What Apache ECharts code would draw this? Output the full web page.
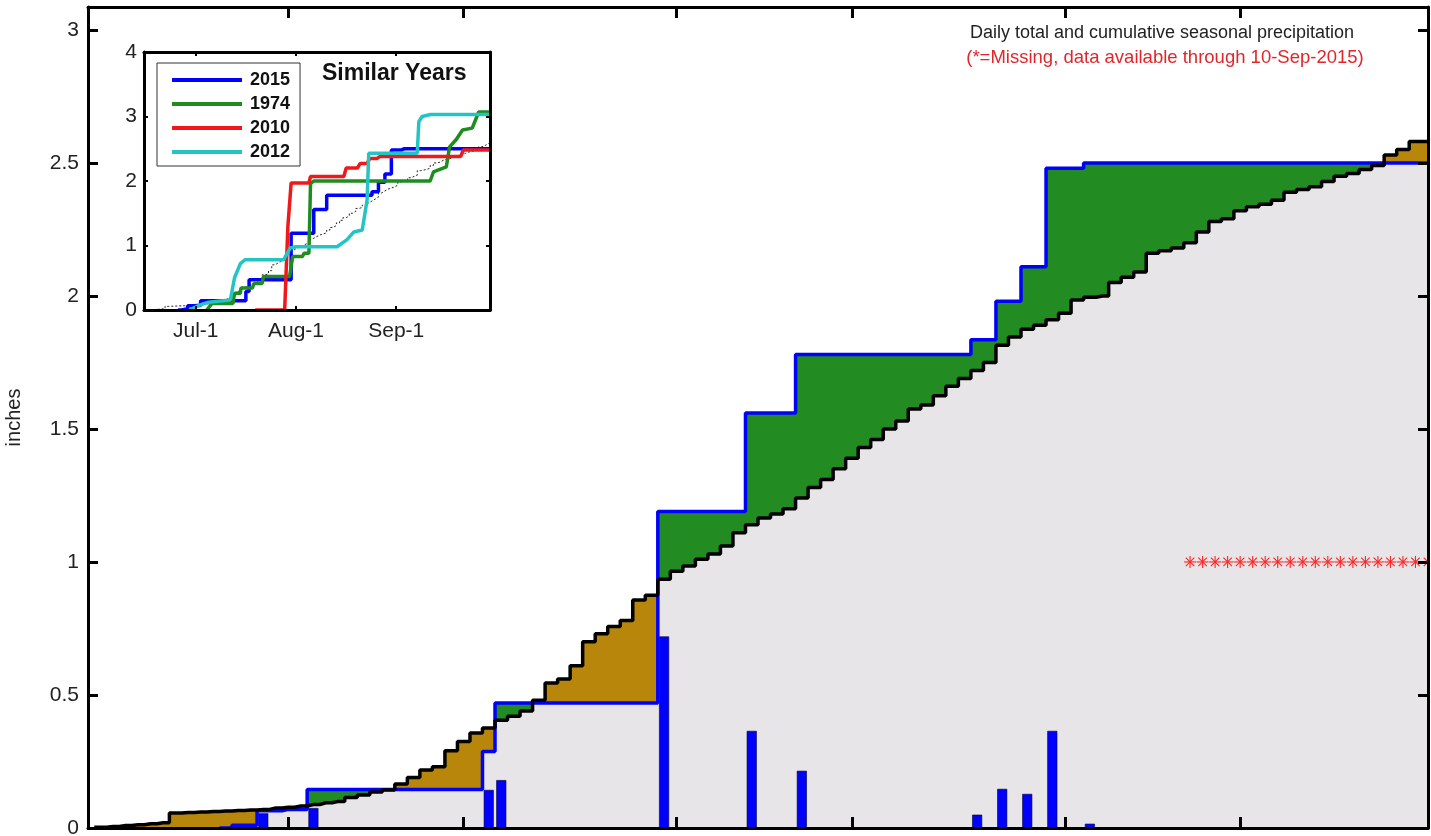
<!DOCTYPE html>
<html><head><meta charset="utf-8">
<script src="https://cdn.jsdelivr.net/npm/echarts@6/dist/echarts.min.js"></script>
<style>html,body{margin:0;padding:0;background:#fff}#c{width:1431px;height:836px}</style>
</head><body><div id="c"></div>
<script>
// x = day index, 0 = Jun-15 ... 107 = Sep-30
const dayMax = 107;
const mainTickDays = [16, 30, 47, 61, 78, 92];          // Jul-1, Jul-15, Aug-1, Aug-15, Sep-1, Sep-15
const yTicks = [0, 0.5, 1, 1.5, 2, 2.5, 3];
const insetTickDays = [16, 47, 78];
const insetTickLabels = ['Jul-1', 'Aug-1', 'Sep-1'];
const insetYTicks = [0, 1, 2, 3, 4];

// normal cumulative precipitation, one value per day (index = day)
const normalCum = [null,0.003,0.006,0.009,0.012,0.016,0.02,0.056,0.058,0.06,
  0.062,0.064,0.066,0.068,0.07,0.075,0.078,0.083,0.088,0.095,
  0.1,0.115,0.124,0.135,0.143,0.165,0.19,0.218,0.23,0.29,
  0.325,0.357,0.376,0.405,0.42,0.44,0.48,0.545,0.56,0.61,
  0.70,0.73,0.757,0.78,0.857,0.875,0.935,0.965,0.985,1.01,
  1.03,1.06,1.11,1.14,1.165,1.18,1.20,1.24,1.28,1.31,
  1.35,1.39,1.43,1.46,1.50,1.53,1.575,1.59,1.625,1.66,
  1.69,1.72,1.75,1.815,1.846,1.875,1.89,1.91,1.935,1.985,
  1.995,2.0,2.05,2.07,2.09,2.16,2.17,2.18,2.2,2.24,
  2.28,2.29,2.32,2.335,2.345,2.36,2.39,2.40,2.41,2.43,
  2.45,2.46,2.475,2.49,2.53,2.55,2.58,2.58];

// 2015 cumulative precipitation, one value per day
const cum2015 = [null,null,null,null,null,null,null,null,null,null,
  null,0,0.01,0.01,0.065,0.065,0.07,0.07,0.145,0.145,
  0.145,0.145,0.145,0.145,0.145,0.145,0.145,0.145,0.145,0.145,
  0.145,0.145,0.288,0.47,0.47,0.47,0.47,0.47,0.47,0.47,
  0.47,0.47,0.47,0.47,0.47,0.47,1.19,1.19,1.19,1.19,
  1.19,1.19,1.19,1.56,1.56,1.56,1.56,1.78,1.78,1.78,
  1.78,1.78,1.78,1.78,1.78,1.78,1.78,1.78,1.78,1.78,
  1.78,1.835,1.835,1.98,1.98,2.11,2.11,2.48,2.48,2.48,
  2.50,2.50,2.50,2.50,2.50,2.50,2.50,2.50,2.50,2.50,
  2.50,2.50,2.50,2.50,2.50,2.50,2.50,2.50,2.50,2.50,
  2.50,2.50,2.50,2.50,2.50,2.50,2.50,2.50];

// 2015 daily totals
const dailyDays = [14, 18, 32, 33, 46, 53, 57, 71, 73, 75, 77, 80];
const dailyAmt  = [0.055, 0.075, 0.143, 0.18, 0.72, 0.365, 0.215, 0.05, 0.147, 0.128, 0.365, 0.016];

// missing days (after 10-Sep-2015)
const missingDays = [88,89,90,91,92,93,94,95,96,97,98,99,100,101,102,103,104,105,106,107];
const missingLevel = 1;

// similar years (inset)
const cum1974 = [[19.4,0],[21,0.1],[27.5,0.1],[28,0.26],[29.8,0.26],[30,0.34],[33.5,0.34],[34,0.41],[36.5,0.41],[37,0.52],[45,0.52],[46,0.83],[49,0.83],[49.5,0.88],[51,0.88],[51.5,1.96],[52.5,2.0],[88.5,2.0],[89.5,2.14],[93.5,2.22],[94.5,2.53],[96.5,2.64],[98.5,2.79],[101.5,2.82],[103.5,3.07],[107,3.07]];
const cum2010 = [[34.4,0],[43.5,0],[44.5,1.3],[45.5,1.97],[51,1.97],[51.5,2.07],[61.8,2.07],[62.5,2.2],[66,2.2],[66.8,2.27],[69,2.27],[69.8,2.35],[72,2.35],[73,2.38],[97.9,2.38],[98.8,2.48],[107,2.48]];
const cum2012 = [[14,0],[17.4,0.08],[20,0.12],[26.7,0.155],[28,0.5],[29.8,0.72],[31.3,0.78],[43.2,0.78],[45.2,0.96],[47,0.98],[59.7,0.98],[62.8,1.09],[64.9,1.21],[67.5,1.24],[69,1.71],[69.5,2.43],[84.5,2.43],[85,2.92],[86,3.0],[88.6,3.03],[107,3.03]];

const FONT = "'Liberation Sans', Arial, sans-serif";
const GRAY = '#E7E5E7', GREEN = '#228B22', GOLD = '#B8860B', BLUE = '#0000FF';

const pairs = arr => arr.map((v, i) => [i, v]);
// area under the lower of the two curves (drawn last, over the green/gold fills)
const lowFill = normalCum.map((n, i) => {
  const b = cum2015[i];
  if (n == null) return [i, 0];
  if (b == null) return [i, 0];
  return [i, Math.min(n, b)];
});

const axLine = {show: true, onZero: false, lineStyle: {color: '#000', width: 3}};
function xMain(pos) {
  return {type: 'value', gridIndex: 0, min: 0, max: dayMax, position: pos, z: 10,
    axisLine: axLine, splitLine: {show: false}, axisLabel: {show: false},
    axisTick: {show: true, inside: true, length: 11, lineStyle: {color: '#000', width: 3}, customValues: mainTickDays}};
}
function yMain(pos, lab) {
  return {type: 'value', gridIndex: 0, min: 0, max: 3.086, position: pos, z: 10,
    axisLine: axLine, splitLine: {show: false},
    name: lab ? 'inches' : '', nameLocation: 'middle', nameGap: 64, nameRotate: 90,
    nameTextStyle: {fontFamily: FONT, fontSize: 20, color: '#222'},
    axisLabel: {show: lab, customValues: yTicks, fontFamily: FONT, fontSize: 21, color: '#222', margin: 9,
      formatter: v => String(v)},
    axisTick: {show: true, inside: true, length: 10, lineStyle: {color: '#000', width: 3}, customValues: yTicks}};
}
const axLine2 = {show: true, onZero: false, lineStyle: {color: '#000', width: 3}};
function xIn(pos, lab) {
  return {type: 'value', gridIndex: 1, min: 0, max: dayMax, position: pos, z: 10,
    axisLine: axLine2, splitLine: {show: false},
    axisLabel: {show: lab, customValues: insetTickDays, fontFamily: FONT, fontSize: 21, color: '#222', margin: 11,
      formatter: v => insetTickLabels[insetTickDays.indexOf(v)] || ''},
    axisTick: {show: true, inside: true, length: 4, lineStyle: {color: '#000', width: 2}, customValues: insetTickDays}};
}
function yIn(pos, lab) {
  return {type: 'value', gridIndex: 1, min: 0, max: 4, position: pos, z: 10,
    axisLine: axLine2, splitLine: {show: false},
    axisLabel: {show: lab, customValues: insetYTicks, fontFamily: FONT, fontSize: 21, color: '#222', margin: 7},
    axisTick: {show: true, inside: true, length: 4, lineStyle: {color: '#000', width: 2}, customValues: insetYTicks}};
}

const chart = echarts.init(document.getElementById('c'), null, {renderer: 'canvas'});
const areaBase = {type: 'line', xAxisIndex: 0, yAxisIndex: 0, step: 'middle', symbol: 'none',
  lineStyle: {width: 0}, silent: true, animation: false};

chart.setOption({
  animation: false,
  backgroundColor: '#fff',
  grid: [
    {left: 88, top: 7, right: 3, bottom: 8, containLabel: false, outerBoundsMode: 'none'},
    {left: 144, top: 52, width: 346, height: 258, containLabel: false, outerBoundsMode: 'none',
      show: true, backgroundColor: '#fff', borderWidth: 0, z: 6}
  ],
  xAxis: [xMain('bottom'), xMain('top'), xIn('bottom', true), xIn('top', false)],
  yAxis: [yMain('left', true), yMain('right', false), yIn('left', true), yIn('right', false)],
  legend: {
    data: ['2015', '1974', '2010', '2012'], orient: 'vertical', left: 157, top: 63,
    padding: [8, 10, 5, 15], itemWidth: 70, itemHeight: 4, itemGap: 6, icon: 'rect',
    borderColor: '#333', borderWidth: 1, backgroundColor: '#fff', selectedMode: false, z: 20,
    textStyle: {fontFamily: FONT, fontWeight: 'bold', fontSize: 18, lineHeight: 18, color: '#111', padding: [0, 0, 0, 3]}
  },
  graphic: [
    {type: 'text', x: 322, y: 74, z: 30, style: {text: 'Similar Years', font: 'bold 23px ' + FONT, fill: '#111', align: 'left', verticalAlign: 'middle'}},
    {type: 'text', x: 1162, y: 33, z: 30, style: {text: 'Daily total and cumulative seasonal precipitation', font: '18px ' + FONT, fill: '#222', align: 'center', verticalAlign: 'middle'}},
    {type: 'text', x: 1165, y: 58, z: 30, style: {text: '(*=Missing, data available through 10-Sep-2015)', font: '18.5px ' + FONT, fill: '#E0262B', align: 'center', verticalAlign: 'middle'}}
  ],
  series: [
    // gold under normal curve, green under 2015 curve, gray under the lower of the two
    Object.assign({}, areaBase, {name: 'normalFill', z: 1, data: pairs(normalCum), areaStyle: {color: GOLD, opacity: 1, origin: 'start'}}),
    Object.assign({}, areaBase, {name: 'obsFill', z: 1, data: pairs(cum2015), areaStyle: {color: GREEN, opacity: 1, origin: 'start'}}),
    Object.assign({}, areaBase, {name: 'lowFill', z: 1, data: lowFill, areaStyle: {color: GRAY, opacity: 1, origin: 'start'}}),
    {type: 'bar', name: 'daily', xAxisIndex: 0, yAxisIndex: 0, barWidth: 10, z: 2,
      data: dailyDays.map((d, i) => [d, dailyAmt[i]]),
      itemStyle: {color: BLUE, borderColor: '#000033', borderWidth: 0.6}},
    {type: 'line', name: 'cum2015', xAxisIndex: 0, yAxisIndex: 0, step: 'middle', symbol: 'none', z: 3,
      data: pairs(cum2015), lineStyle: {color: BLUE, width: 3.5}},
    {type: 'line', name: 'normal', xAxisIndex: 0, yAxisIndex: 0, step: 'middle', symbol: 'none', z: 4,
      data: pairs(normalCum), lineStyle: {color: '#000', width: 3.5}},
    {type: 'custom', name: 'missing', xAxisIndex: 0, yAxisIndex: 0, z: 5, clip: true,
      data: missingDays.map(d => [d, missingLevel]),
      renderItem: function (params, api) {
        const p = api.coord([api.value(0), api.value(1)]);
        const r = 6, c = r * 0.7071;
        const st = {stroke: '#FF2424', lineWidth: 1.1};
        return {type: 'group', children: [
          {type: 'line', shape: {x1: p[0] - r, y1: p[1], x2: p[0] + r, y2: p[1]}, style: st},
          {type: 'line', shape: {x1: p[0], y1: p[1] - r, x2: p[0], y2: p[1] + r}, style: st},
          {type: 'line', shape: {x1: p[0] - c, y1: p[1] - c, x2: p[0] + c, y2: p[1] + c}, style: st},
          {type: 'line', shape: {x1: p[0] - c, y1: p[1] + c, x2: p[0] + c, y2: p[1] - c}, style: st}
        ]};
      }},
    // inset
    {type: 'line', name: 'normal-inset', xAxisIndex: 2, yAxisIndex: 2, step: 'middle', symbol: 'none', z: 7,
      data: pairs(normalCum), lineStyle: {color: '#222', width: 1, type: [2, 2]}},
    {type: 'line', name: '2015', xAxisIndex: 2, yAxisIndex: 2, step: 'middle', symbol: 'none', z: 8,
      data: pairs(cum2015), itemStyle: {color: BLUE}, lineStyle: {color: BLUE, width: 3.5}},
    {type: 'line', name: '1974', xAxisIndex: 2, yAxisIndex: 2, symbol: 'none', z: 8,
      data: cum1974, itemStyle: {color: '#1E8C1E'}, lineStyle: {color: '#1E8C1E', width: 3.5}},
    {type: 'line', name: '2010', xAxisIndex: 2, yAxisIndex: 2, symbol: 'none', z: 8,
      data: cum2010, itemStyle: {color: '#F01818'}, lineStyle: {color: '#F01818', width: 3.5}},
    {type: 'line', name: '2012', xAxisIndex: 2, yAxisIndex: 2, symbol: 'none', z: 8,
      data: cum2012, itemStyle: {color: '#22C4C4'}, lineStyle: {color: '#22C4C4', width: 3.5}}
  ]
});
</script></body></html>
